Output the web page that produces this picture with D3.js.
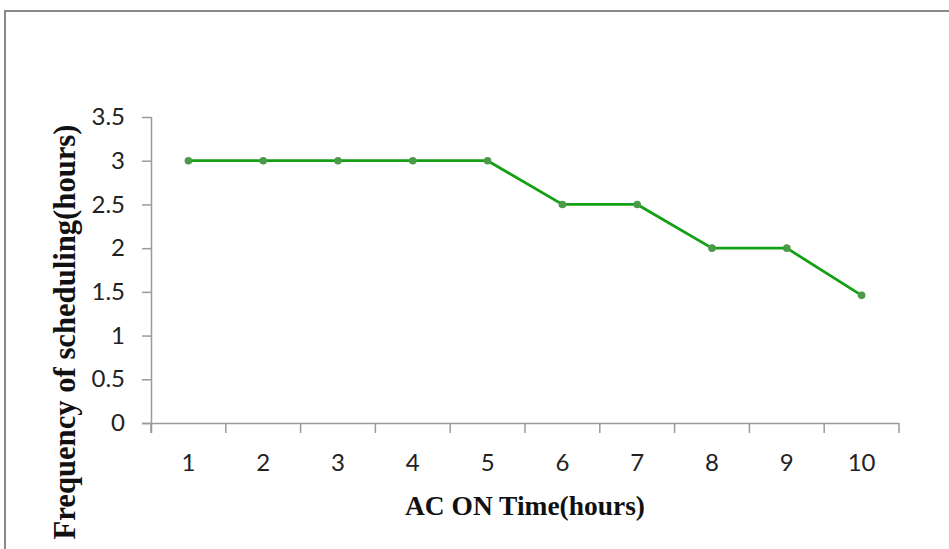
<!DOCTYPE html>
<html>
<head>
<meta charset="utf-8">
<script src="https://cdn.jsdelivr.net/npm/d3@7"></script>
<style>
  html, body { margin: 0; padding: 0; background: #fff; }
  svg { display: block; }
</style>
</head>
<body>
<svg id="chart" width="949" height="549"></svg>
<script>
// Hours the AC stays on, and how often the schedule is run for each
const hours = [1, 2, 3, 4, 5, 6, 7, 8, 9, 10];
const frequency = [3, 3, 3, 3, 3, 2.5, 2.5, 2, 2, 1.46];
const yTicks = [0, 0.5, 1, 1.5, 2, 2.5, 3, 3.5];
const xTitle = "AC ON Time(hours)";
const yTitle = "Frequency of scheduling(hours)";

const svg = d3.select("#chart");

// outer frame
svg.append("rect")
  .attr("x", 5).attr("y", 11)
  .attr("width", 960).attr("height", 560)
  .attr("fill", "#fff")
  .attr("stroke", "#888").attr("stroke-width", 2);

const plot = { left: 151, right: 899, top: 117, bottom: 423 };

const x = d3.scaleBand()
  .domain(hours)
  .range([plot.left, plot.right]);

const y = d3.scaleLinear()
  .domain([0, 3.5])
  .range([plot.bottom, plot.top]);

const axisColor = "#9a9a9a";
const tickFont = "Lato, 'Open Sans', sans-serif";
const titleFont = "'Liberation Serif', 'Times New Roman', serif";

// y axis
const yAxis = svg.append("g")
  .attr("transform", `translate(${plot.left},0)`)
  .call(d3.axisLeft(y).tickValues(yTicks).tickSize(9).tickPadding(17)
    .tickFormat(d => String(d)));
yAxis.select(".domain").attr("stroke", axisColor).attr("stroke-width", 1.5)
  .attr("d", `M0.5,${plot.top}V${plot.bottom + 10}`);
yAxis.selectAll(".tick line").attr("stroke", axisColor).attr("stroke-width", 1.5);
yAxis.selectAll(".tick text")
  .attr("fill", "#222").attr("font-size", 24).attr("font-family", tickFont);

// x axis with ticks between categories
const xAxis = svg.append("g")
  .attr("transform", `translate(0,${plot.bottom})`)
  .call(d3.axisBottom(x).tickSize(0).tickPadding(31));
xAxis.select(".domain").attr("stroke", axisColor).attr("stroke-width", 1.5)
  .attr("d", `M${plot.left - 9},0.5H${plot.right}`);
xAxis.selectAll(".tick text")
  .attr("fill", "#222").attr("font-size", 24).attr("font-family", tickFont);
const bounds = hours.map(h => x(h)).concat([x(hours[hours.length - 1]) + x.bandwidth()]);
xAxis.selectAll(".bound")
  .data(bounds)
  .join("line")
  .attr("class", "bound")
  .attr("x1", d => d).attr("x2", d => d)
  .attr("y1", 0).attr("y2", 10)
  .attr("stroke", axisColor).attr("stroke-width", 1.5);

// series line
const cx = d => x(d) + x.bandwidth() / 2;
const line = d3.line()
  .x((d, i) => cx(hours[i]))
  .y(d => y(d));

svg.append("path")
  .datum(frequency)
  .attr("fill", "none")
  .attr("stroke", "#14a014")
  .attr("stroke-width", 2.8)
  .attr("d", line);

svg.selectAll(".pt")
  .data(frequency)
  .join("circle")
  .attr("class", "pt")
  .attr("cx", (d, i) => cx(hours[i]))
  .attr("cy", d => y(d))
  .attr("r", 3.8)
  .attr("fill", "#4a9a4a");

// axis titles
svg.append("text")
  .attr("x", 525)
  .attr("y", 515)
  .attr("text-anchor", "middle")
  .attr("font-family", titleFont)
  .attr("font-weight", "bold")
  .attr("font-size", 27)
  .attr("textLength", 240)
  .attr("lengthAdjust", "spacingAndGlyphs")
  .attr("fill", "#111")
  .text(xTitle);

svg.append("text")
  .attr("transform", `translate(75,332) rotate(-90)`)
  .attr("text-anchor", "middle")
  .attr("font-family", titleFont)
  .attr("font-weight", "bold")
  .attr("font-size", 31)
  .attr("textLength", 415)
  .attr("lengthAdjust", "spacingAndGlyphs")
  .attr("fill", "#111")
  .text(yTitle);
</script>
</body>
</html>
